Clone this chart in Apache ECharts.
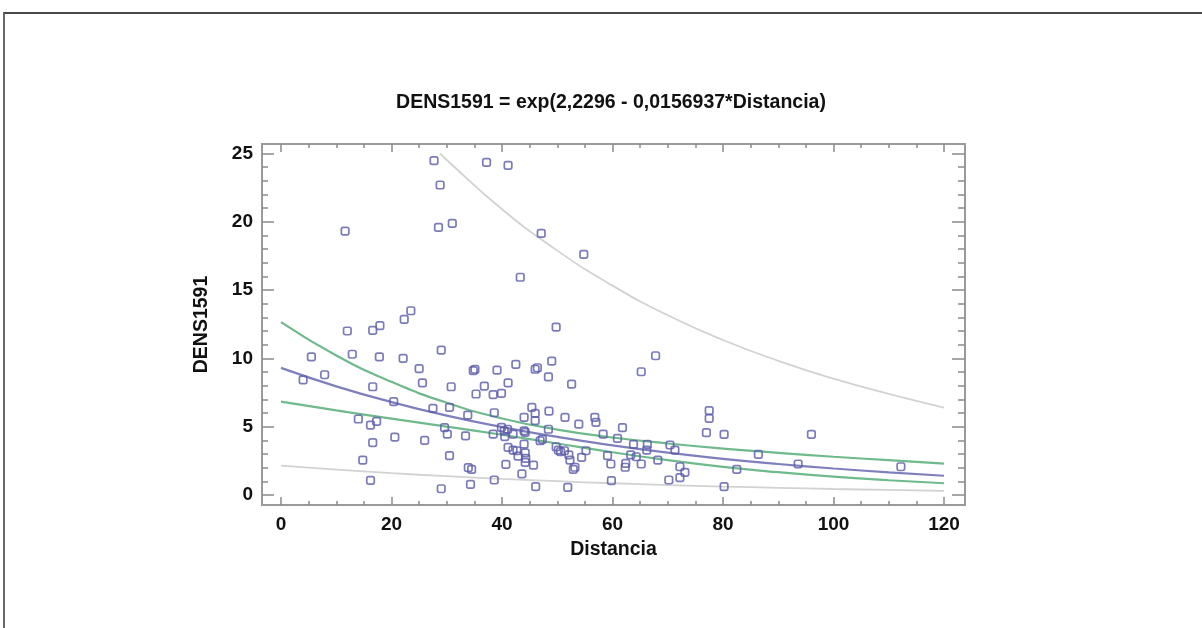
<!DOCTYPE html>
<html>
<head>
<meta charset="utf-8">
<script src="https://cdn.jsdelivr.net/npm/echarts@6/dist/echarts.min.js"></script>
<style>
  html, body { margin: 0; padding: 0; background: #fff; }
  #chart { width: 1202px; height: 628px; position: relative; }
  #frame { position: absolute; left: 3px; top: 12px; width: 1400px; height: 800px;
           border-top: 2px solid #4a4a4a; border-left: 2px solid #6a6a6a; pointer-events: none; }
</style>
</head>
<body>
<div id="chart"></div>
<div id="frame"></div>
<script>
// Observations: [Distancia, DENS1591]
const obsX = [
  11.6, 27.7, 28.8, 28.5, 31.0, 37.2, 41.1, 47.1, 54.8, 43.3, 49.8, 12.0, 16.6, 17.9, 22.3, 23.5,
  5.5, 12.9, 17.8, 22.1, 29.0, 25.0, 7.9, 4.0, 25.6, 16.6, 30.8, 20.4, 27.5, 30.5, 14.0, 17.3,
  16.2, 29.6, 30.1, 20.6, 26.0, 16.6, 30.5, 14.8, 16.2, 29.0,
  35.1, 34.8, 39.1, 42.5, 46.0, 46.4, 49.0, 48.4, 41.1, 52.6, 36.8, 35.3, 38.4, 39.9, 33.8, 38.6,
  45.4, 44.0, 46.0, 46.0, 48.5, 51.4, 53.9, 56.8, 57.0, 33.4, 38.4, 39.9, 40.4, 41.0, 40.5, 44.0,
  44.2, 42.0, 48.4, 47.3, 46.9, 44.0, 41.1, 42.0, 42.7, 42.9, 44.2, 44.3, 44.2, 45.7, 40.7, 43.6,
  49.8, 50.2, 50.6, 51.3, 52.1, 52.3, 53.2, 52.9, 54.4, 55.2, 58.3, 59.1, 59.7, 59.8, 33.9, 34.5,
  34.3, 38.6, 46.1, 51.9,
  67.8, 65.2, 77.5, 77.5, 77.0, 80.2, 61.8, 60.9, 63.8, 66.3, 66.2, 70.4, 71.3, 63.3, 64.3, 68.2,
  62.4, 62.3, 65.2, 72.2, 73.1, 72.2, 70.2, 82.5, 86.4, 80.2, 93.6, 96.0, 112.2
];
const obsY = [
  19.31, 24.46, 22.68, 19.58, 19.88, 24.34, 24.12, 19.14, 17.61, 15.93, 12.29, 12.0, 12.05, 12.39, 12.85, 13.48,
  10.1, 10.3, 10.1, 10.0, 10.6, 9.24, 8.8, 8.43, 8.2, 7.92, 7.92, 6.83, 6.34, 6.41, 5.56, 5.39,
  5.12, 4.93, 4.46, 4.24, 4.0, 3.83, 2.88, 2.56, 1.07, 0.46,
  9.2, 9.1, 9.14, 9.56, 9.2, 9.31, 9.8, 8.65, 8.2, 8.12, 7.97, 7.39, 7.34, 7.44, 5.85, 6.02,
  6.41, 5.68, 5.98, 5.44, 6.14, 5.68, 5.19, 5.68, 5.32, 4.32, 4.46, 4.95, 4.70, 4.81, 4.27, 4.7,
  4.59, 4.46, 4.81, 4.07, 3.97, 3.73, 3.49, 3.29, 3.24, 2.85, 3.09, 2.68, 2.39, 2.19, 2.24, 1.54,
  3.53, 3.29, 3.17, 3.24, 2.93, 2.56, 2.03, 1.88, 2.76, 3.24, 4.46, 2.88, 2.27, 1.05, 2.0, 1.88,
  0.78, 1.1, 0.61, 0.56,
  10.19, 9.02, 6.17, 5.61, 4.56, 4.44, 4.93, 4.15, 3.71, 3.71, 3.29, 3.66, 3.29, 2.93, 2.80, 2.56,
  2.32, 2.03, 2.27, 2.07, 1.66, 1.27, 1.1, 1.88, 2.98, 0.61, 2.27, 4.44, 2.07
];

// Curves at these Distancia values
const curveX = [0, 10, 20, 30, 40, 50, 60, 70, 80, 90, 100, 110, 120];
const fitY      = [9.30, 7.95, 6.80, 5.81, 4.97, 4.25, 3.63, 3.10, 2.65, 2.27, 1.94, 1.66, 1.41];
const confUpY   = [12.65, 10.21, 8.28, 6.75, 5.60, 4.79, 4.21, 3.77, 3.40, 3.09, 2.80, 2.55, 2.30];
const confLoY   = [6.83, 6.19, 5.59, 5.00, 4.41, 3.77, 3.13, 2.55, 2.06, 1.67, 1.34, 1.08, 0.86];
const predLoY   = [2.15, 1.86, 1.60, 1.38, 1.18, 1.01, 0.86, 0.73, 0.62, 0.53, 0.44, 0.37, 0.31];
const predUpX   = [28.8, 30, 40, 50, 60, 70, 80, 90, 100, 110, 120];
const predUpY   = [25.0, 24.51, 20.91, 17.88, 15.32, 13.15, 11.34, 9.82, 8.51, 7.40, 6.40];

// Tick values
const xMajor = [0, 20, 40, 60, 80, 100, 120];
const xMinor = [0, 5, 10, 15, 20, 25, 30, 35, 40, 45, 50, 55, 60, 65, 70, 75, 80, 85, 90, 95, 100, 105, 110, 115, 120];
const yMajor = [0, 5, 10, 15, 20, 25];
const yMinor = [0, 1, 2, 3, 4, 5, 6, 7, 8, 9, 10, 11, 12, 13, 14, 15, 16, 17, 18, 19, 20, 21, 22, 23, 24, 25];

const X_MIN = -3.44, X_MAX = 123.8, Y_MIN = -0.73, Y_MAX = 25.68;

const zip = (xs, ys) => xs.map((x, i) => [x, ys[i]]);

const FONT = "'Liberation Sans', Arial, sans-serif";
const TICKC = '#8a8a8a';
const chart = echarts.init(document.getElementById('chart'), null, { renderer: 'canvas' });

const lineSeries = (name, xs, ys, color, width) => ({
  name, type: 'line', xAxisIndex: 0, yAxisIndex: 0,
  data: zip(xs, ys), showSymbol: false, symbol: 'none', smooth: true,
  lineStyle: { color, width }, z: 2, silent: true
});

const labelStyle = (margin) => ({ color: '#111', fontSize: 19, fontWeight: 'bold', fontFamily: FONT, margin });
const nameStyle = { color: '#111', fontSize: 19.5, fontWeight: 'bold', fontFamily: FONT };

const tickAxis = (dim, pos, ticks, len, labels, name, nameGap) => ({
  type: 'value', gridIndex: 0, position: pos,
  min: dim === 'x' ? X_MIN : Y_MIN, max: dim === 'x' ? X_MAX : Y_MAX,
  axisLine: { show: false, onZero: false },
  axisTick: { show: true, inside: true, length: len, customValues: ticks, lineStyle: { color: TICKC, width: 1.5 } },
  splitLine: { show: false },
  axisLabel: labels ? Object.assign({ show: true, customValues: labels }, labelStyle(dim === 'x' ? 10 : 9)) : { show: false },
  name: name || '', nameLocation: 'middle', nameGap: nameGap || 0,
  nameTextStyle: nameStyle
});

chart.setOption({
  animation: false,
  backgroundColor: '#ffffff',
  title: {
    text: 'DENS1591 = exp(2,2296 - 0,0156937*Distancia)',
    left: 606, top: 88, textAlign: 'center',
    textStyle: { color: '#111', fontSize: 19.5, fontWeight: 'bold', fontFamily: FONT }
  },
  grid: [
    { left: 262, right: 237, top: 144, bottom: 123, show: true, borderColor: '#9a9a9a', borderWidth: 2, backgroundColor: 'transparent' }
  ],
  xAxis: [
    tickAxis('x', 'bottom', xMinor, 4, null),
    tickAxis('x', 'bottom', xMajor, 8, xMajor, 'Distancia', 35),
    tickAxis('x', 'top', xMinor, 4, null),
    tickAxis('x', 'top', xMajor, 8, null)
  ],
  yAxis: [
    tickAxis('y', 'left', yMinor, 6, null),
    tickAxis('y', 'left', yMajor, 12, yMajor, 'DENS1591', 50),
    tickAxis('y', 'right', yMinor, 7, null),
    tickAxis('y', 'right', yMajor, 13, null)
  ],
  series: [
    lineSeries('pred-lo', curveX, predLoY, '#d2d2d2', 1.8),
    lineSeries('pred-up', predUpX, predUpY, '#d2d2d2', 1.8),
    lineSeries('conf-up', curveX, confUpY, '#6fba8c', 2.2),
    lineSeries('conf-lo', curveX, confLoY, '#6fba8c', 2.2),
    lineSeries('fit', curveX, fitY, '#7f7fbd', 2.2),
    {
      name: 'obs', type: 'scatter', xAxisIndex: 0, yAxisIndex: 0,
      data: zip(obsX, obsY), symbol: 'roundRect', symbolSize: 7.5,
      itemStyle: { color: 'rgba(255,255,255,0)', borderColor: '#5a5aa8', borderWidth: 1.7 },
      z: 3, silent: true
    }
  ]
});
</script>
</body>
</html>
